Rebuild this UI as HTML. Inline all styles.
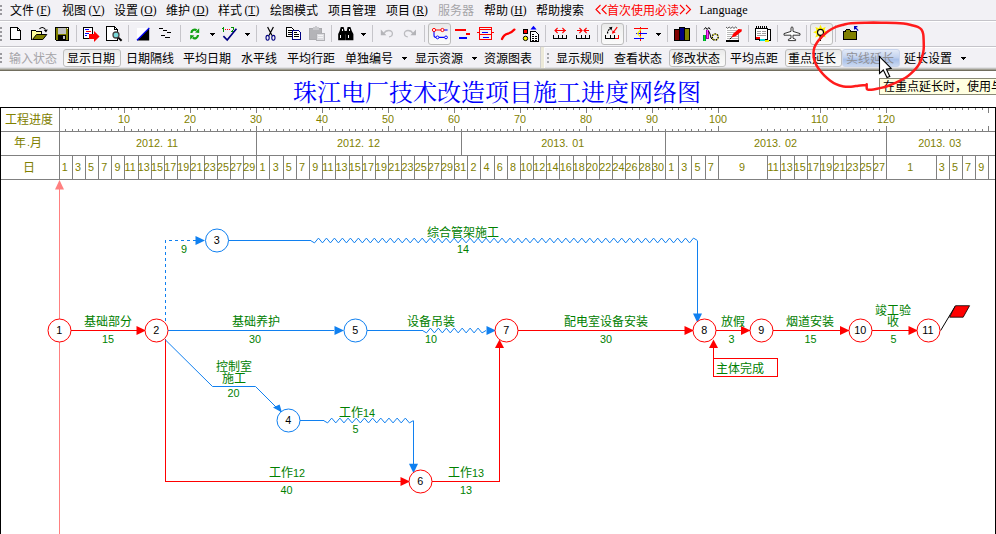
<!DOCTYPE html>
<html lang="zh"><head><meta charset="utf-8"><title>网络图</title><style>
html,body{margin:0;padding:0;background:#fff}
#app{position:relative;width:996px;height:534px;overflow:hidden;background:#fff;font-family:"Liberation Sans",sans-serif}
.a{position:absolute;display:block;white-space:nowrap}
svg.a{overflow:visible}
.m{font-family:"Liberation Serif",serif;font-size:11.5px;line-height:14px}
.d{font-family:"Liberation Sans",sans-serif;font-size:10.8px;line-height:12px}
.n{font-family:"Liberation Sans",sans-serif;font-size:10.8px;line-height:13px}
.t{font-family:"Liberation Sans","Noto Sans CJK SC",sans-serif;font-size:12px}
.tt{font-family:"Liberation Serif","Noto Serif CJK SC",serif;font-size:24px}
u{text-decoration:underline}
</style></head>
<body><div id="app">
<div class="a" style="left:0;top:0;width:996px;height:70px;background:#f2f1f5"></div>
<div class="a" style="left:0;top:20px;width:996px;height:1px;background:#c5c4c9"></div>
<div class="a" style="left:0;top:21px;width:996px;height:1px;background:#fff"></div>
<div class="a" style="left:0;top:46px;width:996px;height:1px;background:#c5c4c9"></div>
<div class="a" style="left:0;top:47px;width:996px;height:1px;background:#fff"></div>
<div class="a" style="left:0;top:67px;width:996px;height:1px;background:#e2e2e5"></div>
<div class="a" style="left:0;top:68px;width:996px;height:1px;background:#c3c3c0"></div>
<div class="a" style="left:0;top:69px;width:996px;height:1px;background:#a19f93"></div>
<div class="a" style="left:0;top:70px;width:996px;height:1px;background:#716e5e"></div>
<div class="a" style="left:0;top:5px;width:2px;height:2px;background:#9a999e"></div>
<div class="a" style="left:0;top:9px;width:2px;height:2px;background:#9a999e"></div>
<div class="a" style="left:0;top:13px;width:2px;height:2px;background:#9a999e"></div>
<div class="a" style="left:0;top:27px;width:2px;height:2px;background:#9a999e"></div>
<div class="a" style="left:0;top:31px;width:2px;height:2px;background:#9a999e"></div>
<div class="a" style="left:0;top:35px;width:2px;height:2px;background:#9a999e"></div>
<div class="a" style="left:0;top:39px;width:2px;height:2px;background:#9a999e"></div>
<div class="a" style="left:0;top:53px;width:2px;height:2px;background:#9a999e"></div>
<div class="a" style="left:0;top:57px;width:2px;height:2px;background:#9a999e"></div>
<div class="a" style="left:0;top:61px;width:2px;height:2px;background:#9a999e"></div>
<svg class="a" style="left:10px;top:3.5px" width="24" height="15"><text class="t" x="0" y="10.56" fill="#000">文件</text></svg>
<span class="a m" style="left:36.5px;top:3px;color:#000;">(<u>F</u>)</span>
<svg class="a" style="left:62px;top:3.5px" width="24" height="15"><text class="t" x="0" y="10.56" fill="#000">视图</text></svg>
<span class="a m" style="left:88.5px;top:3px;color:#000;">(<u>V</u>)</span>
<svg class="a" style="left:114px;top:3.5px" width="24" height="15"><text class="t" x="0" y="10.56" fill="#000">设置</text></svg>
<span class="a m" style="left:140.5px;top:3px;color:#000;">(<u>O</u>)</span>
<svg class="a" style="left:166px;top:3.5px" width="24" height="15"><text class="t" x="0" y="10.56" fill="#000">维护</text></svg>
<span class="a m" style="left:192.5px;top:3px;color:#000;">(<u>D</u>)</span>
<svg class="a" style="left:218px;top:3.5px" width="24" height="15"><text class="t" x="0" y="10.56" fill="#000">样式</text></svg>
<span class="a m" style="left:244.5px;top:3px;color:#000;">(<u>T</u>)</span>
<svg class="a" style="left:270px;top:3.5px" width="48" height="15"><text class="t" x="0" y="10.56" fill="#000">绘图模式</text></svg>
<svg class="a" style="left:328px;top:3.5px" width="48" height="15"><text class="t" x="0" y="10.56" fill="#000">项目管理</text></svg>
<svg class="a" style="left:386px;top:3.5px" width="24" height="15"><text class="t" x="0" y="10.56" fill="#000">项目</text></svg>
<span class="a m" style="left:412.5px;top:3px;color:#000;">(<u>R</u>)</span>
<svg class="a" style="left:437.5px;top:3.5px" width="36" height="15"><text class="t" x="0" y="10.56" fill="#a5a4a8">服务器</text></svg>
<svg class="a" style="left:484px;top:3.5px" width="24" height="15"><text class="t" x="0" y="10.56" fill="#000">帮助</text></svg>
<span class="a m" style="left:510.5px;top:3px;color:#000;">(<u>H</u>)</span>
<svg class="a" style="left:536px;top:3.5px" width="48" height="15"><text class="t" x="0" y="10.56" fill="#000">帮助搜索</text></svg>
<svg class="a" style="left:595px;top:4px" width="13" height="12"><title><<</title><path d="M5.5 1L1 5.5L5.5 10M11.5 1L7 5.5L11.5 10" fill="none" stroke="#f00" stroke-width="1.1"/></svg>
<svg class="a" style="left:607px;top:3.5px" width="72" height="15"><text class="t" x="0" y="10.56" fill="#f00">首次使用必读</text></svg>
<svg class="a" style="left:678.5px;top:4px" width="13" height="12"><title>>></title><path d="M1 1L5.5 5.5L1 10M7 1L11.5 5.5L7 10" fill="none" stroke="#f00" stroke-width="1.1"/></svg>
<span class="a m" style="left:699.5px;top:3px;color:#000;font-size:12.2px">Language</span>
<div class="a" style="left:63px;top:49px;width:58px;height:18px;box-sizing:border-box;border:1px solid #bdbdbd;border-radius:3px;background:linear-gradient(#e9e9e9,#f3f3f2 40%,#fafafa)"></div>
<div class="a" style="left:668.5px;top:49px;width:57px;height:18px;box-sizing:border-box;border:1px solid #bdbdbd;border-radius:3px;background:linear-gradient(#e9e9e9,#f3f3f2 40%,#fafafa)"></div>
<div class="a" style="left:784.5px;top:49px;width:57px;height:18px;box-sizing:border-box;border:1px solid #bdbdbd;border-radius:3px;background:linear-gradient(#e9e9e9,#f3f3f2 40%,#fafafa)"></div>
<div class="a" style="left:842px;top:49px;width:58px;height:18px;box-sizing:border-box;border:1px solid #c9d5ec;border-radius:3px;background:linear-gradient(#e3eaf7,#c3d3ef 45%,#a9c0e8 60%,#c9d8f1)"></div>
<svg class="a" style="left:9.4px;top:51.5px" width="48" height="15"><text class="t" x="0" y="10.56" fill="#a5a4a8">输入状态</text></svg>
<svg class="a" style="left:67.4px;top:51.5px" width="48" height="15"><text class="t" x="0" y="10.56" fill="#000">显示日期</text></svg>
<svg class="a" style="left:126.4px;top:51.5px" width="48" height="15"><text class="t" x="0" y="10.56" fill="#000">日期隔线</text></svg>
<svg class="a" style="left:183.4px;top:51.5px" width="48" height="15"><text class="t" x="0" y="10.56" fill="#000">平均日期</text></svg>
<svg class="a" style="left:241.4px;top:51.5px" width="36" height="15"><text class="t" x="0" y="10.56" fill="#000">水平线</text></svg>
<svg class="a" style="left:287.4px;top:51.5px" width="48" height="15"><text class="t" x="0" y="10.56" fill="#000">平均行距</text></svg>
<svg class="a" style="left:345.4px;top:51.5px" width="48" height="15"><text class="t" x="0" y="10.56" fill="#000">单独编号</text></svg>
<svg class="a" style="left:415.4px;top:51.5px" width="48" height="15"><text class="t" x="0" y="10.56" fill="#000">显示资源</text></svg>
<svg class="a" style="left:484.4px;top:51.5px" width="48" height="15"><text class="t" x="0" y="10.56" fill="#000">资源图表</text></svg>
<svg class="a" style="left:556.4px;top:51.5px" width="48" height="15"><text class="t" x="0" y="10.56" fill="#000">显示规则</text></svg>
<svg class="a" style="left:614.4px;top:51.5px" width="48" height="15"><text class="t" x="0" y="10.56" fill="#000">查看状态</text></svg>
<svg class="a" style="left:672.4px;top:51.5px" width="48" height="15"><text class="t" x="0" y="10.56" fill="#000">修改状态</text></svg>
<svg class="a" style="left:730.4px;top:51.5px" width="48" height="15"><text class="t" x="0" y="10.56" fill="#000">平均点距</text></svg>
<svg class="a" style="left:788.4px;top:51.5px" width="48" height="15"><text class="t" x="0" y="10.56" fill="#000">重点延长</text></svg>
<svg class="a" style="left:846.4px;top:51.5px" width="48" height="15"><text class="t" x="0" y="10.56" fill="#8f9096">实线延长</text></svg>
<svg class="a" style="left:904.4px;top:51.5px" width="48" height="15"><text class="t" x="0" y="10.56" fill="#000">延长设置</text></svg>
<svg class="a" style="left:402px;top:57px" width="6" height="4" shape-rendering="crispEdges"><path d="M0 0h5l-2.5 3z" fill="#000"/></svg>
<svg class="a" style="left:472px;top:57px" width="6" height="4" shape-rendering="crispEdges"><path d="M0 0h5l-2.5 3z" fill="#000"/></svg>
<svg class="a" style="left:961px;top:57px" width="6" height="4" shape-rendering="crispEdges"><path d="M0 0h5l-2.5 3z" fill="#000"/></svg>
<div class="a" style="left:540px;top:47px;width:1px;height:21px;background:#cfcfd2"></div>
<div class="a" style="left:541px;top:47px;width:3px;height:21px;background:#ece9d8"></div>
<div class="a" style="left:544px;top:47px;width:1px;height:21px;background:#fafafc"></div>
<div class="a" style="left:547px;top:53px;width:2px;height:2px;background:#a4a6aa"></div>
<div class="a" style="left:547px;top:57px;width:2px;height:2px;background:#a4a6aa"></div>
<div class="a" style="left:547px;top:61px;width:2px;height:2px;background:#a4a6aa"></div>
<div class="a" style="left:76px;top:25px;width:1px;height:17px;background:#c6c5ca"></div>
<div class="a" style="left:128px;top:25px;width:1px;height:17px;background:#c6c5ca"></div>
<div class="a" style="left:180px;top:25px;width:1px;height:17px;background:#c6c5ca"></div>
<div class="a" style="left:256px;top:25px;width:1px;height:17px;background:#c6c5ca"></div>
<div class="a" style="left:331px;top:25px;width:1px;height:17px;background:#c6c5ca"></div>
<div class="a" style="left:372px;top:25px;width:1px;height:17px;background:#c6c5ca"></div>
<div class="a" style="left:424px;top:25px;width:1px;height:17px;background:#c6c5ca"></div>
<div class="a" style="left:545px;top:25px;width:1px;height:17px;background:#c6c5ca"></div>
<div class="a" style="left:597px;top:25px;width:1px;height:17px;background:#c6c5ca"></div>
<div class="a" style="left:626px;top:25px;width:1px;height:17px;background:#c6c5ca"></div>
<div class="a" style="left:667px;top:25px;width:1px;height:17px;background:#c6c5ca"></div>
<div class="a" style="left:696px;top:25px;width:1px;height:17px;background:#c6c5ca"></div>
<div class="a" style="left:748px;top:25px;width:1px;height:17px;background:#c6c5ca"></div>
<div class="a" style="left:777px;top:25px;width:1px;height:17px;background:#c6c5ca"></div>
<div class="a" style="left:806px;top:25px;width:1px;height:17px;background:#c6c5ca"></div>
<div class="a" style="left:835px;top:25px;width:1px;height:17px;background:#c6c5ca"></div>
<svg class="a" style="left:210px;top:33px" width="6" height="4" shape-rendering="crispEdges"><path d="M0 0h5l-2.5 3z" fill="#000"/></svg>
<svg class="a" style="left:245px;top:33px" width="6" height="4" shape-rendering="crispEdges"><path d="M0 0h5l-2.5 3z" fill="#000"/></svg>
<svg class="a" style="left:361px;top:33px" width="6" height="4" shape-rendering="crispEdges"><path d="M0 0h5l-2.5 3z" fill="#000"/></svg>
<svg class="a" style="left:656px;top:33px" width="6" height="4" shape-rendering="crispEdges"><path d="M0 0h5l-2.5 3z" fill="#000"/></svg>
<div class="a" style="left:428px;top:23px;width:23px;height:22px;box-sizing:border-box;border:1px solid #bdbdbd;border-radius:3px;background:linear-gradient(#e9e9e9,#f3f3f2 40%,#fafafa)"></div>
<div class="a" style="left:601px;top:23px;width:23px;height:22px;box-sizing:border-box;border:1px solid #bdbdbd;border-radius:3px;background:linear-gradient(#e9e9e9,#f3f3f2 40%,#fafafa)"></div>
<div class="a" style="left:810px;top:23px;width:23px;height:22px;box-sizing:border-box;border:1px solid #bdbdbd;border-radius:3px;background:linear-gradient(#e9e9e9,#f3f3f2 40%,#fafafa)"></div>
<svg class="a" style="left:0;top:0" width="996" height="47"><g shape-rendering="crispEdges"><path d="M10.5 27.5H17.5L20.5 30.5V39.5H10.5Z" stroke="#000" fill="#fff" stroke-width="1"/><path d="M17.5 27.5V30.5H20.5" stroke="#000" fill="none" stroke-width="1"/><path d="M31.5 39.5V30.5H35.5L36.5 31.5H41.5V34.5" stroke="#000" fill="#ffff9a" stroke-width="1"/><rect x="32" y="32" width="5" height="7" fill="#ffff9a"/></g><path d="M32.5 39.5H42.8L46.8 34.5H36.5Z" stroke="#000" fill="#808000" stroke-width="1"/><path d="M39.5 28.8Q42.5 25.8 45.5 29.5" stroke="#000" fill="none" stroke-width="1.1"/><polygon points="43.8,30 47.8,29.6 46,32.6" fill="#000"/><g shape-rendering="crispEdges"><path d="M55.5 27.5H68.5V40.5H56.5L55.5 39.5Z" stroke="#000" fill="#808000" stroke-width="1"/><rect x="58" y="28" width="8" height="6" fill="#c0c0c0"/><rect x="58" y="35" width="8" height="5" fill="#000"/><rect x="63" y="36" width="2" height="3" fill="#c0c0c0"/><rect x="67" y="28" width="1" height="1" fill="#fff"/><path d="M83.5 27.5H92.5V38.5H83.5Z" stroke="#000" fill="#fff" stroke-width="1"/><rect x="85" y="29" width="4" height="1" fill="#00f"/><rect x="86" y="31" width="5" height="1" fill="#f00"/><rect x="85" y="33" width="4" height="1" fill="#00f"/><rect x="85" y="35" width="2" height="1" fill="#00f"/></g><polygon points="89,34 94,34 94,31 99.6,36.5 94,42 94,39 89,39" fill="#f00"/><path d="M106.5 26.5H114.5L117.5 29.5V40.5H106.5Z" stroke="#000" fill="#fff" stroke-width="1" shape-rendering="crispEdges"/><path d="M114.5 26.5V29.5H117.5" stroke="#000" fill="none" stroke-width="1" shape-rendering="crispEdges"/><circle cx="116" cy="35" r="3" fill="#7adada" stroke="#444" stroke-width="1.3"/><path d="M118.3 37.6L121.6 40.8" stroke="#000" fill="none" stroke-width="2"/><rect x="137" y="28" width="12" height="12" fill="#fff"/><polygon points="137,40.5 149.2,40.5 149.2,28" fill="#000"/><path d="M137 40.3L149.3 27.9" stroke="#00f" fill="none" stroke-width="1.3"/><g shape-rendering="crispEdges"><rect x="159" y="28" width="4" height="1" fill="#000"/><rect x="163" y="30" width="4" height="1" fill="#000"/><rect x="167" y="32" width="4" height="1" fill="#000"/><rect x="161" y="35" width="4" height="1" fill="#000"/><rect x="165" y="37" width="5" height="1" fill="#000"/></g><path d="M191.4 33A3.4 3.4 0 0 1 196.6 30.2" stroke="#12a012" fill="none" stroke-width="2.2"/><polygon points="199.2,28.2 199.2,33 195,32.4" fill="#12a012"/><path d="M198 35A3.4 3.4 0 0 1 192.8 37.8" stroke="#12a012" fill="none" stroke-width="2.2"/><polygon points="190.2,39.8 190.2,35 194.4,35.6" fill="#12a012"/><g shape-rendering="crispEdges"><rect x="223" y="27" width="1" height="5" fill="#009000"/><rect x="222" y="28" width="1" height="1" fill="#009000"/><rect x="225" y="29" width="1" height="1" fill="#f00"/><rect x="227" y="29" width="1" height="1" fill="#f00"/><rect x="229" y="29" width="1" height="1" fill="#f00"/><rect x="231" y="27" width="3" height="1" fill="#009000"/><rect x="233" y="28" width="1" height="2" fill="#009000"/><rect x="232" y="30" width="1" height="1" fill="#009000"/><rect x="231" y="31" width="4" height="1" fill="#009000"/></g><path d="M223.4 36.2L227.2 40L236.4 28.8" stroke="#000080" fill="none" stroke-width="1.7"/><path d="M267.6 27L272 35.6M273.4 27L269 35.6" stroke="#000" fill="none" stroke-width="1.2"/><ellipse cx="267.6" cy="37.8" rx="1.6" ry="2.4" fill="none" stroke="#000080" stroke-width="1.1"/><ellipse cx="273.4" cy="37.8" rx="1.6" ry="2.4" fill="none" stroke="#000080" stroke-width="1.1"/><g shape-rendering="crispEdges"><path d="M286.5 27.5H291.5L293.5 29.5V36.5H286.5Z" stroke="#000" fill="#fff" stroke-width="1"/><rect x="288" y="30" width="4" height="1" fill="#000"/><rect x="288" y="32" width="4" height="1" fill="#000"/><rect x="288" y="34" width="4" height="1" fill="#000"/><path d="M292.5 30.5H298.5L300.5 32.5V39.5H292.5Z" stroke="#000080" fill="#fff" stroke-width="1"/><rect x="294" y="34" width="5" height="1" fill="#000"/><rect x="294" y="36" width="5" height="1" fill="#000"/><rect x="294" y="32" width="3" height="1" fill="#000"/><path d="M309.5 28.5H321.5V39.5H309.5Z" stroke="#aaaaae" fill="#b4b4b8" stroke-width="1"/><rect x="313" y="27" width="6" height="3" fill="#c9c9cd"/><rect x="315" y="26" width="2" height="1" fill="#c9c9cd"/><path d="M316.5 33.5H324.5V40.5H316.5Z" stroke="#b0b0b4" fill="#dcdce0" stroke-width="1"/><rect x="318" y="35" width="5" height="1" fill="#f4f4f6"/><rect x="318" y="37" width="5" height="1" fill="#f4f4f6"/></g><path d="M340.8 27h2.8l1.2 4.4l1 2.2V40.2h-7.6V34l1.4-3zM347.6 27h2.8l1.4 4l1.6 3V40.2h-7.4V33.6l.6-2.2zM344 31h4v3.4h-4z" fill="#000"/><rect x="340" y="35" width="1" height="3" fill="#fff"/><rect x="348" y="35" width="1" height="3" fill="#fff"/><rect x="342" y="29" width="1" height="2" fill="#fff"/><rect x="349" y="29" width="1" height="2" fill="#fff"/><path d="M384 33.5C385.5 29.6 392.4 29.4 392.4 33.6C392.4 35.6 390.8 36.8 389 36.9" stroke="#bcbcc0" fill="none" stroke-width="1.3"/><polygon points="380.8,29.6 380.8,35.2 386.4,35.2" fill="#b4b4b8"/><path d="M412.8 33.5C411.3 29.6 404.4 29.4 404.4 33.6C404.4 35.6 406 36.8 407.8 36.9" stroke="#bcbcc0" fill="none" stroke-width="1.3"/><polygon points="416,29.6 416,35.2 410.4,35.2" fill="#b4b4b8"/><path d="M435.6 30H441" stroke="#f00" fill="none" stroke-width="1"/><path d="M444 30H447.6" stroke="#00f" fill="none" stroke-width="1.1"/><circle cx="434" cy="30" r="1.6" fill="#fff" stroke="#f00" stroke-width="1"/><circle cx="442.4" cy="30" r="1.6" fill="#fff" stroke="#f00" stroke-width="1"/><path d="M434 31.8V35.2Q434 37.4 436 37.4M439 37.4H444.6" stroke="#00f" fill="none" stroke-width="1.1"/><circle cx="437.5" cy="37.4" r="1.4" fill="#fff" stroke="#00f" stroke-width="1"/><circle cx="446" cy="37.4" r="1.4" fill="#fff" stroke="#00f" stroke-width="1"/><g shape-rendering="crispEdges"><rect x="455" y="29" width="11" height="2" fill="#f00"/><rect x="466" y="33" width="4" height="2" fill="#f00"/><rect x="459" y="37" width="8" height="2" fill="#00f"/><path d="M479.5 27.5H491.5V39.5H479.5ZM479.5 29.5H491.5M479.5 34.5H491.5M477 32.5H479M492 32.5H494" stroke="#f00" fill="none" stroke-width="1"/><rect x="482" y="32" width="6" height="1" fill="#00f"/><rect x="483" y="37" width="6" height="1" fill="#00f"/></g><path d="M502 39C503.5 35.5 505.5 34.2 508 33.6S512.4 32 514.4 29.6" stroke="#f00" fill="none" stroke-width="2.3" stroke-linecap="round"/><path d="M523.5 29.5H527.5V33.5H523.5Z" stroke="#000" fill="#f00" stroke-width="1" shape-rendering="crispEdges"/><circle cx="525.5" cy="38.4" r="2.2" fill="#ff0" stroke="#000"/><polygon points="533.5,25.8 530.4,29.6 536.6,29.6" fill="#00f"/><g shape-rendering="crispEdges"><path d="M530.5 31.5H535.5L538.5 34.5V41.5H530.5Z" stroke="#000" fill="#fff" stroke-width="1"/><rect x="532" y="34" width="2" height="1" fill="#000"/><rect x="532" y="36" width="2" height="1" fill="#000"/><rect x="535" y="36" width="2" height="1" fill="#000"/><rect x="532" y="38" width="2" height="1" fill="#000"/><rect x="535" y="38" width="2" height="1" fill="#000"/><rect x="532" y="40" width="2" height="1" fill="#000"/><rect x="535" y="40" width="2" height="1" fill="#000"/><rect x="553" y="38" width="14" height="1" fill="#000"/><rect x="553" y="35" width="1" height="3" fill="#000"/><rect x="558" y="35" width="1" height="3" fill="#000"/><rect x="562" y="35" width="1" height="3" fill="#000"/><rect x="566" y="35" width="1" height="3" fill="#000"/><rect x="555" y="30" width="11" height="1" fill="#f00"/></g><path d="M557.6 28L555 30.5L557.6 33M562.4 28L565 30.5L562.4 33" stroke="#f00" fill="none" stroke-width="1.1"/><g shape-rendering="crispEdges"><rect x="576" y="38" width="14" height="1" fill="#000"/><rect x="576" y="35" width="1" height="3" fill="#000"/><rect x="581" y="35" width="1" height="3" fill="#000"/><rect x="585" y="35" width="1" height="3" fill="#000"/><rect x="589" y="35" width="1" height="3" fill="#000"/><rect x="577" y="30" width="5" height="1" fill="#f00"/><rect x="584" y="30" width="5" height="1" fill="#f00"/></g><path d="M579.4 28L582 30.5L579.4 33M586.6 28L584 30.5L586.6 33" stroke="#f00" fill="none" stroke-width="1.1"/><g shape-rendering="crispEdges"><rect x="605" y="38" width="10" height="1" fill="#000"/><rect x="615" y="38" width="4" height="1" fill="#f00"/><rect x="618" y="35" width="1" height="3" fill="#f00"/><rect x="605" y="35" width="1" height="3" fill="#000"/><rect x="610" y="35" width="1" height="3" fill="#000"/><rect x="614" y="35" width="1" height="3" fill="#000"/></g><path d="M607.5 33.6Q607.6 30 610.2 28.8" stroke="#000" fill="none" stroke-width="1.2" stroke-dasharray="2 1"/><polygon points="612.4,26.8 608.8,27.6 611.4,30.4" fill="#000"/><path d="M617.2 27.2L613.6 32" stroke="#f00" fill="none" stroke-width="1.2"/><polygon points="612,33.8 612.6,30.2 615.6,32.6" fill="#f00"/><g shape-rendering="crispEdges"><rect x="634" y="28" width="14" height="1" fill="#f00"/><rect x="640" y="27" width="1" height="14" fill="#f00"/><rect x="636" y="33" width="11" height="1" fill="#00f"/><rect x="634" y="38" width="10" height="1" fill="#00f"/></g><path d="M641 29.2L637.6 33.6L641 37.6" stroke="#f4f000" fill="none" stroke-width="1.2"/><g shape-rendering="crispEdges"><rect x="674" y="29" width="6" height="12" fill="#000"/><rect x="679" y="27" width="6" height="14" fill="#000"/><rect x="684" y="28" width="6" height="13" fill="#000"/><rect x="674" y="40" width="16" height="1" fill="#000"/><rect x="675" y="30" width="4" height="10" fill="#800000"/><rect x="680" y="28" width="4" height="12" fill="#000080"/><rect x="685" y="29" width="4" height="11" fill="#808000"/><rect x="703" y="35" width="3" height="6" fill="#084"/><rect x="704" y="35" width="1" height="6" fill="#0e0"/><rect x="706" y="30" width="3" height="9" fill="#a0a"/><rect x="707" y="30" width="1" height="8" fill="#f4f"/></g><path d="M704 29.5l1.6-2l1.6 2l1.6-2l1.6 2M708.6 31l1.4 3l1 4l2.4 2.4" stroke="#000" fill="none" stroke-width="1"/><circle cx="715.2" cy="37" r="3" fill="none" stroke="#000" stroke-width="1.4" stroke-dasharray="1.4 1.2"/><circle cx="715.2" cy="37" r="3" fill="none" stroke="#c8c000" stroke-width="1.2" stroke-dasharray="1.2 1.4" stroke-dashoffset="1.3"/><g shape-rendering="crispEdges"><rect x="726" y="28" width="13" height="12" fill="#fff"/><rect x="738" y="29" width="1" height="11" fill="#909090"/><rect x="726" y="40" width="13" height="2" fill="#000"/><rect x="727" y="30" width="11" height="1" fill="#b8b8b8"/><rect x="727" y="32" width="11" height="1" fill="#b8b8b8"/><rect x="727" y="34" width="11" height="1" fill="#b8b8b8"/><rect x="727" y="36" width="11" height="1" fill="#b8b8b8"/><rect x="727" y="38" width="11" height="1" fill="#b8b8b8"/></g><path d="M726 27l1.6 1.4l1.6-1.4l1.6 1.4l1.6-1.4l1.6 1.4l1.6-1.4l1.6 1.4" stroke="#555" fill="none" stroke-width="1"/><polygon points="742,29.6 738.6,29 733.4,33.6 731.4,37.6 735.6,36.2 741.4,31.4" fill="#f00"/><path d="M731.6 37.4L729.8 39.2" stroke="#000" fill="none" stroke-width="1"/><g shape-rendering="crispEdges"><path d="M758.5 40.5H770.5V29.5H767.5" stroke="#000" fill="#fff" stroke-width="1"/><path d="M755.5 28.5H767.5V39.5H755.5Z" stroke="#000" fill="#fff" stroke-width="1"/><rect x="756" y="26" width="1" height="3" fill="#000"/><rect x="758" y="26" width="1" height="3" fill="#000"/><rect x="760" y="26" width="1" height="3" fill="#000"/><rect x="762" y="26" width="1" height="3" fill="#000"/><rect x="764" y="26" width="1" height="3" fill="#000"/><rect x="766" y="26" width="1" height="3" fill="#000"/><rect x="757" y="31" width="4" height="1" fill="#a0a0a0"/><rect x="762" y="31" width="4" height="1" fill="#a0a0a0"/><rect x="757" y="33" width="4" height="1" fill="#a0a0a0"/><rect x="762" y="33" width="4" height="1" fill="#a0a0a0"/><rect x="757" y="35" width="9" height="1" fill="#a0a0a0"/><rect x="756" y="37" width="4" height="2" fill="#f00"/><rect x="760" y="39" width="5" height="2" fill="#0dd"/><rect x="765" y="40" width="4" height="2" fill="#ee0"/></g><path d="M791 27.6Q792 26 793 27.6V31.4L800 33.6V35.2H793V38.2L795.6 39.4V40.6H788.4V39.4L791 38.2V35.2H784V33.6L791 31.4Z" stroke="#222" fill="#fff" stroke-width="0.9"/><polygon points="820.5,24.8 822.1,28.3 825.7,27.0 824.4,30.6 827.9,32.2 824.4,33.8 825.7,37.4 822.1,36.1 820.5,39.6 818.9,36.1 815.3,37.4 816.6,33.8 813.1,32.2 816.6,30.6 815.3,27.0 818.9,28.3" fill="#ffef00"/><circle cx="820.5" cy="32.4" r="3" fill="#ffffd8" stroke="#000" stroke-width="1.1"/><rect x="819.6" y="35.4" width="2" height="3.6" fill="#000"/><rect x="820" y="39" width="1" height="2" fill="#000"/><g shape-rendering="crispEdges"><path d="M843.5 31.5H856.5V39.5H843.5Z" stroke="#000" fill="#808000" stroke-width="1"/><path d="M845.5 31.5V30.5L846.5 29.5H849.5L850.5 30.5V31.5" stroke="#000" fill="#808000" stroke-width="1"/></g><path d="M854.6 29.4V26.6H857.4M854.8 26.8L858.2 30.6" stroke="#0000c0" fill="none" stroke-width="1.2"/></svg>
<svg class="a" style="left:293.2px;top:80.1px" width="407.4" height="29.25"><text class="tt" x="0" y="20.59" fill="#00f">珠江电厂技术改造项目施工进度网络图</text></svg>
<svg class="a" style="left:0;top:0" width="996" height="534" shape-rendering="crispEdges"><path d="M0 107.5H996M0.5 107V534M995.5 107V534" stroke="#000" fill="none"/><path d="M1 131.5H995M1 155.5H995M1 179.5H995M59.5 108V180M65.5 108v2M65.5 129v2M72.5 108v2M72.5 129v2M78.5 108v2M78.5 129v2M85.5 108v2M85.5 129v2M91.5 108v2M91.5 129v2M98.5 108v2M98.5 129v2M105.5 108v2M105.5 129v2M111.5 108v2M111.5 129v2M118.5 108v2M118.5 129v2M124.5 108v5M124.5 126v5M131.5 108v2M131.5 129v2M138.5 108v2M138.5 129v2M144.5 108v2M144.5 129v2M151.5 108v2M151.5 129v2M157.5 108v2M157.5 129v2M164.5 108v2M164.5 129v2M171.5 108v2M171.5 129v2M177.5 108v2M177.5 129v2M184.5 108v2M184.5 129v2M190.5 108v5M190.5 126v5M197.5 108v2M197.5 129v2M204.5 108v2M204.5 129v2M210.5 108v2M210.5 129v2M217.5 108v2M217.5 129v2M223.5 108v2M223.5 129v2M230.5 108v2M230.5 129v2M236.5 108v2M236.5 129v2M243.5 108v2M243.5 129v2M250.5 108v2M250.5 129v2M256.5 108v5M256.5 126v5M263.5 108v2M263.5 129v2M269.5 108v2M269.5 129v2M276.5 108v2M276.5 129v2M283.5 108v2M283.5 129v2M289.5 108v2M289.5 129v2M296.5 108v2M296.5 129v2M302.5 108v2M302.5 129v2M309.5 108v2M309.5 129v2M316.5 108v2M316.5 129v2M322.5 108v5M322.5 126v5M329.5 108v2M329.5 129v2M335.5 108v2M335.5 129v2M342.5 108v2M342.5 129v2M349.5 108v2M349.5 129v2M355.5 108v2M355.5 129v2M362.5 108v2M362.5 129v2M368.5 108v2M368.5 129v2M375.5 108v2M375.5 129v2M382.5 108v2M382.5 129v2M388.5 108v5M388.5 126v5M395.5 108v2M395.5 129v2M401.5 108v2M401.5 129v2M408.5 108v2M408.5 129v2M414.5 108v2M414.5 129v2M421.5 108v2M421.5 129v2M428.5 108v2M428.5 129v2M434.5 108v2M434.5 129v2M441.5 108v2M441.5 129v2M447.5 108v2M447.5 129v2M454.5 108v5M454.5 126v5M461.5 108v2M461.5 129v2M467.5 108v2M467.5 129v2M474.5 108v2M474.5 129v2M480.5 108v2M480.5 129v2M487.5 108v2M487.5 129v2M494.5 108v2M494.5 129v2M500.5 108v2M500.5 129v2M507.5 108v2M507.5 129v2M513.5 108v2M513.5 129v2M520.5 108v5M520.5 126v5M527.5 108v2M527.5 129v2M533.5 108v2M533.5 129v2M540.5 108v2M540.5 129v2M546.5 108v2M546.5 129v2M553.5 108v2M553.5 129v2M559.5 108v2M559.5 129v2M566.5 108v2M566.5 129v2M573.5 108v2M573.5 129v2M579.5 108v2M579.5 129v2M586.5 108v5M586.5 126v5M592.5 108v2M592.5 129v2M599.5 108v2M599.5 129v2M606.5 108v2M606.5 129v2M612.5 108v2M612.5 129v2M619.5 108v2M619.5 129v2M625.5 108v2M625.5 129v2M632.5 108v2M632.5 129v2M639.5 108v2M639.5 129v2M645.5 108v2M645.5 129v2M652.5 108v5M652.5 126v5M658.5 108v2M658.5 129v2M665.5 108v2M665.5 129v2M672.5 108v2M672.5 129v2M678.5 108v2M678.5 129v2M685.5 108v2M685.5 129v2M691.5 108v2M691.5 129v2M698.5 108v2M698.5 129v2M705.5 108v2M705.5 129v2M711.5 108v2M711.5 129v2M718.5 108v5M718.5 126v5M761.5 108v2M761.5 129v2M767.5 108v2M767.5 129v2M774.5 108v2M774.5 129v2M780.5 108v2M780.5 129v2M787.5 108v2M787.5 129v2M794.5 108v2M794.5 129v2M800.5 108v2M800.5 129v2M807.5 108v2M807.5 129v2M813.5 108v2M813.5 129v2M820.5 108v5M820.5 126v5M827.5 108v2M827.5 129v2M833.5 108v2M833.5 129v2M840.5 108v2M840.5 129v2M846.5 108v2M846.5 129v2M853.5 108v2M853.5 129v2M860.5 108v2M860.5 129v2M866.5 108v2M866.5 129v2M873.5 108v2M873.5 129v2M879.5 108v2M879.5 129v2M886.5 108v5M886.5 126v5M929.5 108v2M929.5 129v2M936.5 108v2M936.5 129v2M942.5 108v2M942.5 129v2M949.5 108v2M949.5 129v2M955.5 108v2M955.5 129v2M962.5 108v2M962.5 129v2M968.5 108v2M968.5 129v2M975.5 108v2M975.5 129v2M982.5 108v2M982.5 129v2M988.5 108v5M988.5 126v5M256.5 132v23M461.5 132v23M665.5 132v23M886.5 132v23M72.5 156v23M85.5 156v23M98.5 156v23M111.5 156v23M124.5 156v23M138.5 156v23M151.5 156v23M164.5 156v23M177.5 156v23M190.5 156v23M204.5 156v23M217.5 156v23M230.5 156v23M243.5 156v23M256.5 156v23M269.5 156v23M283.5 156v23M296.5 156v23M309.5 156v23M322.5 156v23M335.5 156v23M349.5 156v23M362.5 156v23M375.5 156v23M388.5 156v23M401.5 156v23M414.5 156v23M428.5 156v23M441.5 156v23M454.5 156v23M467.5 156v23M480.5 156v23M494.5 156v23M507.5 156v23M520.5 156v23M533.5 156v23M546.5 156v23M559.5 156v23M573.5 156v23M586.5 156v23M599.5 156v23M612.5 156v23M625.5 156v23M639.5 156v23M652.5 156v23M665.5 156v23M678.5 156v23M691.5 156v23M705.5 156v23M718.5 156v23M767.5 156v23M780.5 156v23M794.5 156v23M807.5 156v23M820.5 156v23M833.5 156v23M846.5 156v23M860.5 156v23M873.5 156v23M886.5 156v23M936.5 156v23M949.5 156v23M962.5 156v23M975.5 156v23M988.5 156v23" stroke="#808080" fill="none"/></svg>
<svg class="a" style="left:5px;top:112.6px" width="48" height="15"><text class="t" x="0" y="10.56" fill="#808000">工程进度</text></svg>
<svg class="a" style="left:13.5px;top:136.3px" width="12" height="15"><text class="t" x="0" y="10.56" fill="#808000">年</text></svg>
<span class="a d" style="left:27px;top:136.2px;color:#808000;">.</span>
<svg class="a" style="left:30px;top:136.3px" width="12" height="15"><text class="t" x="0" y="10.56" fill="#808000">月</text></svg>
<svg class="a" style="left:23px;top:160.5px" width="12" height="15"><text class="t" x="0" y="10.56" fill="#808000">日</text></svg>
<span class="a d" style="left:117.9px;top:112.9px;color:#808000;">10</span>
<span class="a d" style="left:183.9px;top:112.9px;color:#808000;">20</span>
<span class="a d" style="left:249.9px;top:112.9px;color:#808000;">30</span>
<span class="a d" style="left:315.9px;top:112.9px;color:#808000;">40</span>
<span class="a d" style="left:381.9px;top:112.9px;color:#808000;">50</span>
<span class="a d" style="left:447.9px;top:112.9px;color:#808000;">60</span>
<span class="a d" style="left:513.9px;top:112.9px;color:#808000;">70</span>
<span class="a d" style="left:579.9px;top:112.9px;color:#808000;">80</span>
<span class="a d" style="left:645.9px;top:112.9px;color:#808000;">90</span>
<span class="a d" style="left:708.9px;top:112.9px;color:#808000;">100</span>
<span class="a d" style="left:810.9px;top:112.9px;color:#808000;">110</span>
<span class="a d" style="left:876.9px;top:112.9px;color:#808000;">120</span>
<span class="a d" style="left:135.88px;top:136.9px;color:#808000;">2012.</span>
<span class="a d" style="left:166.88px;top:136.9px;color:#808000;">11</span>
<span class="a d" style="left:336.936px;top:136.9px;color:#808000;">2012.</span>
<span class="a d" style="left:367.936px;top:136.9px;color:#808000;">12</span>
<span class="a d" style="left:541.288px;top:136.9px;color:#808000;">2013.</span>
<span class="a d" style="left:572.288px;top:136.9px;color:#808000;">01</span>
<span class="a d" style="left:753.952px;top:136.9px;color:#808000;">2013.</span>
<span class="a d" style="left:784.952px;top:136.9px;color:#808000;">02</span>
<span class="a d" style="left:918.22px;top:136.9px;color:#808000;">2013.</span>
<span class="a d" style="left:949.22px;top:136.9px;color:#808000;">03</span>
<span class="a d" style="left:61.692px;top:160.9px;color:#808000;">1</span>
<span class="a d" style="left:74.876px;top:160.9px;color:#808000;">3</span>
<span class="a d" style="left:88.06px;top:160.9px;color:#808000;">5</span>
<span class="a d" style="left:101.244px;top:160.9px;color:#808000;">7</span>
<span class="a d" style="left:114.428px;top:160.9px;color:#808000;">9</span>
<span class="a d" style="left:124.612px;top:160.9px;color:#808000;">11</span>
<span class="a d" style="left:137.796px;top:160.9px;color:#808000;">13</span>
<span class="a d" style="left:150.98px;top:160.9px;color:#808000;">15</span>
<span class="a d" style="left:164.164px;top:160.9px;color:#808000;">17</span>
<span class="a d" style="left:177.348px;top:160.9px;color:#808000;">19</span>
<span class="a d" style="left:190.532px;top:160.9px;color:#808000;">21</span>
<span class="a d" style="left:203.716px;top:160.9px;color:#808000;">23</span>
<span class="a d" style="left:216.9px;top:160.9px;color:#808000;">25</span>
<span class="a d" style="left:230.084px;top:160.9px;color:#808000;">27</span>
<span class="a d" style="left:243.268px;top:160.9px;color:#808000;">29</span>
<span class="a d" style="left:259.452px;top:160.9px;color:#808000;">1</span>
<span class="a d" style="left:272.636px;top:160.9px;color:#808000;">3</span>
<span class="a d" style="left:285.82px;top:160.9px;color:#808000;">5</span>
<span class="a d" style="left:299.004px;top:160.9px;color:#808000;">7</span>
<span class="a d" style="left:312.188px;top:160.9px;color:#808000;">9</span>
<span class="a d" style="left:322.372px;top:160.9px;color:#808000;">11</span>
<span class="a d" style="left:335.556px;top:160.9px;color:#808000;">13</span>
<span class="a d" style="left:348.74px;top:160.9px;color:#808000;">15</span>
<span class="a d" style="left:361.924px;top:160.9px;color:#808000;">17</span>
<span class="a d" style="left:375.108px;top:160.9px;color:#808000;">19</span>
<span class="a d" style="left:388.292px;top:160.9px;color:#808000;">21</span>
<span class="a d" style="left:401.476px;top:160.9px;color:#808000;">23</span>
<span class="a d" style="left:414.66px;top:160.9px;color:#808000;">25</span>
<span class="a d" style="left:427.844px;top:160.9px;color:#808000;">27</span>
<span class="a d" style="left:441.028px;top:160.9px;color:#808000;">29</span>
<span class="a d" style="left:454.212px;top:160.9px;color:#808000;">31</span>
<span class="a d" style="left:470.396px;top:160.9px;color:#808000;">2</span>
<span class="a d" style="left:483.58px;top:160.9px;color:#808000;">4</span>
<span class="a d" style="left:496.764px;top:160.9px;color:#808000;">6</span>
<span class="a d" style="left:509.948px;top:160.9px;color:#808000;">8</span>
<span class="a d" style="left:520.132px;top:160.9px;color:#808000;">10</span>
<span class="a d" style="left:533.316px;top:160.9px;color:#808000;">12</span>
<span class="a d" style="left:546.5px;top:160.9px;color:#808000;">14</span>
<span class="a d" style="left:559.684px;top:160.9px;color:#808000;">16</span>
<span class="a d" style="left:572.868px;top:160.9px;color:#808000;">18</span>
<span class="a d" style="left:586.052px;top:160.9px;color:#808000;">20</span>
<span class="a d" style="left:599.236px;top:160.9px;color:#808000;">22</span>
<span class="a d" style="left:612.42px;top:160.9px;color:#808000;">24</span>
<span class="a d" style="left:625.604px;top:160.9px;color:#808000;">26</span>
<span class="a d" style="left:638.788px;top:160.9px;color:#808000;">28</span>
<span class="a d" style="left:651.972px;top:160.9px;color:#808000;">30</span>
<span class="a d" style="left:668.156px;top:160.9px;color:#808000;">1</span>
<span class="a d" style="left:681.34px;top:160.9px;color:#808000;">3</span>
<span class="a d" style="left:694.524px;top:160.9px;color:#808000;">5</span>
<span class="a d" style="left:707.708px;top:160.9px;color:#808000;">7</span>
<span class="a d" style="left:739.092px;top:160.9px;color:#808000;">9</span>
<span class="a d" style="left:767.476px;top:160.9px;color:#808000;">11</span>
<span class="a d" style="left:780.66px;top:160.9px;color:#808000;">13</span>
<span class="a d" style="left:793.844px;top:160.9px;color:#808000;">15</span>
<span class="a d" style="left:807.028px;top:160.9px;color:#808000;">17</span>
<span class="a d" style="left:820.212px;top:160.9px;color:#808000;">19</span>
<span class="a d" style="left:833.396px;top:160.9px;color:#808000;">21</span>
<span class="a d" style="left:846.58px;top:160.9px;color:#808000;">23</span>
<span class="a d" style="left:859.764px;top:160.9px;color:#808000;">25</span>
<span class="a d" style="left:872.948px;top:160.9px;color:#808000;">27</span>
<span class="a d" style="left:907.332px;top:160.9px;color:#808000;">1</span>
<span class="a d" style="left:938.716px;top:160.9px;color:#808000;">3</span>
<span class="a d" style="left:951.9px;top:160.9px;color:#808000;">5</span>
<span class="a d" style="left:965.084px;top:160.9px;color:#808000;">7</span>
<span class="a d" style="left:978.268px;top:160.9px;color:#808000;">9</span>
<svg class="a" style="left:0;top:0" width="996" height="534"><path d="M59.5 188V534" stroke="#ff8080" fill="none" shape-rendering="crispEdges"/><polygon points="59.5,180 55,189.5 64,189.5" fill="#ff8080"/><path d="M71 330.5H145M165.5 339V481.5H409M432 481.5H499.5V345M518 330.5H693M716 330.5H750M773 330.5H849M872 330.5H917M713.5 345V358" stroke="#ff0000" fill="none" shape-rendering="crispEdges"/><rect x="713.5" y="358.5" width="64" height="18" stroke="#ff0000" fill="#fff" shape-rendering="crispEdges"/><polygon points="146,330.5 136.5,326 136.5,335" fill="#ff0000"/><polygon points="410,481.5 400.5,477 400.5,486" fill="#ff0000"/><polygon points="694,330.5 684.5,326 684.5,335" fill="#ff0000"/><polygon points="750.5,330.5 741,326 741,335" fill="#ff0000"/><polygon points="849.5,330.5 840,326 840,335" fill="#ff0000"/><polygon points="918,330.5 908.5,326 908.5,335" fill="#ff0000"/><polygon points="499.5,339.4 495,348 504,348" fill="#ff0000"/><polygon points="713.5,339.4 709,348 718,348" fill="#ff0000"/><path d="M168 330.5H334M228 240.5H310.5M697.5 240.5V315M367 330.5H422.5M300 420.5H323.5M413.5 420.5V464" stroke="#1080f0" fill="none" shape-rendering="crispEdges"/><path d="M165 339.5L212.5 386.5H255.5L281 412" stroke="#1080f0" fill="none"/><path d="M310.5 240.5L314.49 242.9L318.48 238.1L322.47 242.9L326.46 238.1L330.45 242.9L334.44 238.1L338.43 242.9L342.42 238.1L346.41 242.9L350.4 238.1L354.39 242.9L358.38 238.1L362.37 242.9L366.36 238.1L370.35 242.9L374.34 238.1L378.32 242.9L382.31 238.1L386.3 242.9L390.29 238.1L394.28 242.9L398.27 238.1L402.26 242.9L406.25 238.1L410.24 242.9L414.23 238.1L418.22 242.9L422.21 238.1L426.2 242.9L430.19 238.1L434.18 242.9L438.17 238.1L442.16 242.9L446.15 238.1L450.14 242.9L454.13 238.1L458.12 242.9L462.11 238.1L466.1 242.9L470.09 238.1L474.08 242.9L478.07 238.1L482.06 242.9L486.05 238.1L490.04 242.9L494.03 238.1L498.02 242.9L502.01 238.1L505.99 242.9L509.98 238.1L513.97 242.9L517.96 238.1L521.95 242.9L525.94 238.1L529.93 242.9L533.92 238.1L537.91 242.9L541.9 238.1L545.89 242.9L549.88 238.1L553.87 242.9L557.86 238.1L561.85 242.9L565.84 238.1L569.83 242.9L573.82 238.1L577.81 242.9L581.8 238.1L585.79 242.9L589.78 238.1L593.77 242.9L597.76 238.1L601.75 242.9L605.74 238.1L609.73 242.9L613.72 238.1L617.71 242.9L621.7 238.1L625.69 242.9L629.68 238.1L633.66 242.9L637.65 238.1L641.64 242.9L645.63 238.1L649.62 242.9L653.61 238.1L657.6 242.9L661.59 238.1L665.58 242.9L669.57 238.1L673.56 242.9L677.55 238.1L681.54 242.9L685.53 238.1L689.52 242.9L693.51 238.1L697.5 240.5M422.5 330.5L426.47 332.9L430.44 328.1L434.41 332.9L438.38 328.1L442.34 332.9L446.31 328.1L450.28 332.9L454.25 328.1L458.22 332.9L462.19 328.1L466.16 332.9L470.12 328.1L474.09 332.9L478.06 328.1L482.03 332.9L486 330.5M323.5 420.5L327.59 422.9L331.68 418.1L335.77 422.9L339.86 418.1L343.95 422.9L348.05 418.1L352.14 422.9L356.23 418.1L360.32 422.9L364.41 418.1L368.5 422.9L372.59 418.1L376.68 422.9L380.77 418.1L384.86 422.9L388.95 418.1L393.05 422.9L397.14 418.1L401.23 422.9L405.32 418.1L409.41 422.9L413.5 420.5" stroke="#1080f0" fill="none"/><path d="M165.5 321V240.5H196" stroke="#1080f0" fill="none" stroke-dasharray="3 3" shape-rendering="crispEdges"/><polygon points="344,330.5 334.5,326 334.5,335" fill="#1080f0"/><polygon points="205,240.5 195.5,236 195.5,245" fill="#1080f0"/><polygon points="496,330.5 486.5,326 486.5,335" fill="#1080f0"/><polygon points="697.5,323 693,313.5 702,313.5" fill="#1080f0"/><polygon points="413.5,473.3 409,463.8 418,463.8" fill="#1080f0"/><polygon points="282,412.4 273,407.6 279.6,404.4" fill="#1080f0"/><path d="M940.6 330.6L955.3 306" stroke="#000" fill="none"/><polygon points="955.5,305.7 969.6,305.7 963.2,317.2 949.6,317.2" fill="#ff0000" stroke="#000" stroke-width="0.8"/><circle cx="59.5" cy="330.5" r="11.5" fill="#fff" stroke="#ff0000"/><circle cx="156.5" cy="330.5" r="11.5" fill="#fff" stroke="#ff0000"/><circle cx="217" cy="240.5" r="11.5" fill="#fff" stroke="#1080f0"/><circle cx="288.5" cy="420.5" r="11.5" fill="#fff" stroke="#1080f0"/><circle cx="355.5" cy="330.5" r="11.5" fill="#fff" stroke="#1080f0"/><circle cx="420.5" cy="481.5" r="11.5" fill="#fff" stroke="#ff0000"/><circle cx="506.5" cy="330.5" r="11.5" fill="#fff" stroke="#ff0000"/><circle cx="704.5" cy="330.5" r="11.5" fill="#fff" stroke="#ff0000"/><circle cx="761.5" cy="330.5" r="11.5" fill="#fff" stroke="#ff0000"/><circle cx="860.5" cy="330.5" r="11.5" fill="#fff" stroke="#ff0000"/><circle cx="928.5" cy="330.5" r="11.5" fill="#fff" stroke="#ff0000"/></svg>
<span class="a n" style="left:56.2px;top:324px;color:#000;">1</span>
<span class="a n" style="left:153.2px;top:324px;color:#000;">2</span>
<span class="a n" style="left:213.7px;top:234px;color:#000;">3</span>
<span class="a n" style="left:285.2px;top:414px;color:#000;">4</span>
<span class="a n" style="left:352.2px;top:324px;color:#000;">5</span>
<span class="a n" style="left:417.2px;top:475px;color:#000;">6</span>
<span class="a n" style="left:503.2px;top:324px;color:#000;">7</span>
<span class="a n" style="left:701.2px;top:324px;color:#000;">8</span>
<span class="a n" style="left:758.2px;top:324px;color:#000;">9</span>
<span class="a n" style="left:854.2px;top:324px;color:#000;">10</span>
<span class="a n" style="left:922.2px;top:324px;color:#000;">11</span>
<svg class="a" style="left:83.5px;top:315.3px" width="48" height="15"><text class="t" x="0" y="10.56" fill="#008000">基础部分</text></svg>
<svg class="a" style="left:232px;top:315.3px" width="48" height="15"><text class="t" x="0" y="10.56" fill="#008000">基础养护</text></svg>
<svg class="a" style="left:427px;top:225.5px" width="72" height="15"><text class="t" x="0" y="10.56" fill="#008000">综合管架施工</text></svg>
<svg class="a" style="left:407px;top:315.3px" width="48" height="15"><text class="t" x="0" y="10.56" fill="#008000">设备吊装</text></svg>
<svg class="a" style="left:564px;top:315.3px" width="84" height="15"><text class="t" x="0" y="10.56" fill="#008000">配电室设备安装</text></svg>
<svg class="a" style="left:720.5px;top:315.3px" width="24" height="15"><text class="t" x="0" y="10.56" fill="#008000">放假</text></svg>
<svg class="a" style="left:786px;top:315.3px" width="48" height="15"><text class="t" x="0" y="10.56" fill="#008000">烟道安装</text></svg>
<svg class="a" style="left:875.4px;top:303.5px" width="36" height="15"><text class="t" x="0" y="10.56" fill="#008000">竣工验</text></svg>
<svg class="a" style="left:887.2px;top:315.3px" width="12" height="15"><text class="t" x="0" y="10.56" fill="#008000">收</text></svg>
<svg class="a" style="left:215.5px;top:360.3px" width="36" height="15"><text class="t" x="0" y="10.56" fill="#008000">控制室</text></svg>
<svg class="a" style="left:221.5px;top:371.5px" width="24" height="15"><text class="t" x="0" y="10.56" fill="#008000">施工</text></svg>
<svg class="a" style="left:716.4px;top:361.8px" width="48" height="15"><text class="t" x="0" y="10.56" fill="#008000">主体完成</text></svg>
<svg class="a" style="left:339px;top:405.8px" width="24" height="15"><text class="t" x="0" y="10.56" fill="#008000">工作</text></svg>
<svg class="a" style="left:269px;top:466.3px" width="24" height="15"><text class="t" x="0" y="10.56" fill="#008000">工作</text></svg>
<svg class="a" style="left:448px;top:466.3px" width="24" height="15"><text class="t" x="0" y="10.56" fill="#008000">工作</text></svg>
<span class="a d" style="left:102px;top:333.1px;color:#008000;">15</span>
<span class="a d" style="left:249px;top:333.1px;color:#008000;">30</span>
<span class="a d" style="left:457px;top:243.1px;color:#008000;">14</span>
<span class="a d" style="left:425px;top:333.1px;color:#008000;">10</span>
<span class="a d" style="left:600px;top:333.1px;color:#008000;">30</span>
<span class="a d" style="left:728.5px;top:333.1px;color:#008000;">3</span>
<span class="a d" style="left:804.5px;top:333.1px;color:#008000;">15</span>
<span class="a d" style="left:890.5px;top:333.1px;color:#008000;">5</span>
<span class="a d" style="left:181px;top:243.3px;color:#008000;">9</span>
<span class="a d" style="left:227.5px;top:386.6px;color:#008000;">20</span>
<span class="a d" style="left:352.5px;top:423.1px;color:#008000;">5</span>
<span class="a d" style="left:280.5px;top:484.1px;color:#008000;">40</span>
<span class="a d" style="left:460px;top:484.1px;color:#008000;">13</span>
<span class="a d" style="left:363px;top:406.6px;color:#008000;">14</span>
<span class="a d" style="left:293px;top:467.1px;color:#008000;">12</span>
<span class="a d" style="left:472px;top:467.1px;color:#008000;">13</span>
<div class="a" style="left:879px;top:78px;width:130px;height:17px;box-sizing:border-box;background:#ffffe1;border:1px solid #8a8a76"></div>
<svg class="a" style="left:882.5px;top:80px" width="120" height="15"><text class="t" x="0" y="10.56" fill="#000">在重点延长时，使用与</text></svg>
<svg class="a" style="left:0;top:0" width="996" height="110"><path d="M866.7 84.2C866.7 85.0 866.5 88.1 866.9 89.0C867.3 89.9 867.9 89.6 869.0 89.7C870.1 89.8 871.5 89.7 873.5 89.4C875.5 89.1 878.5 88.5 881.0 87.9C883.5 87.3 886.0 86.6 888.5 85.7C891.0 84.8 893.8 83.7 896.0 82.7C898.2 81.7 900.0 80.8 902.0 79.7C904.0 78.6 906.1 77.3 908.0 75.9C909.9 74.5 911.6 73.0 913.2 71.4C914.8 69.8 916.5 67.9 917.7 66.2C919.0 64.5 919.9 62.9 920.7 61.0C921.5 59.1 922.1 57.0 922.6 55.0C923.1 53.0 923.5 51.2 923.7 49.0C923.9 46.8 923.8 44.0 923.7 41.5C923.6 39.0 923.6 36.0 923.2 34.0C922.8 32.0 922.3 30.7 921.4 29.5C920.5 28.3 919.4 27.6 917.7 26.8C916.0 26.1 913.4 25.6 911.0 25.0C908.6 24.4 906.0 23.8 903.5 23.5C901.0 23.2 899.8 23.1 896.0 23.0C892.2 22.9 886.0 22.8 881.0 22.7C876.0 22.6 871.0 22.6 866.0 22.7C861.0 22.8 854.8 22.9 851.0 23.2C847.2 23.5 846.0 24.1 843.5 24.7C841.0 25.3 838.5 25.8 836.0 26.8C833.5 27.9 830.8 29.4 828.5 31.0C826.2 32.6 824.4 34.3 822.5 36.2C820.6 38.1 818.6 40.2 817.2 42.2C815.8 44.2 814.8 46.3 814.2 48.2C813.6 50.1 813.5 51.6 813.5 53.5C813.5 55.4 813.7 57.4 814.2 59.4C814.7 61.4 815.5 63.5 816.5 65.4C817.5 67.3 818.8 69.0 820.2 70.7C821.6 72.5 823.1 74.3 824.7 75.9C826.3 77.5 828.1 79.0 830.0 80.4C831.9 81.8 833.8 83.2 836.0 84.2C838.2 85.2 841.0 86.0 843.5 86.4C846.0 86.8 848.5 86.8 851.0 86.7C853.5 86.6 856.0 86.0 858.4 85.7C860.8 85.5 864.4 85.3 865.6 85.2" fill="none" stroke="#ff1c1c" stroke-width="2.5" stroke-linejoin="round" stroke-linecap="round"/><path d="M879.5 56.5V73.5L883.3 70L887 77.6L889.8 76.4L886.4 69.2L891.2 68.4Z" fill="#fff" stroke="#000" stroke-width="1.1" stroke-linejoin="miter"/></svg>
</div></body></html>
